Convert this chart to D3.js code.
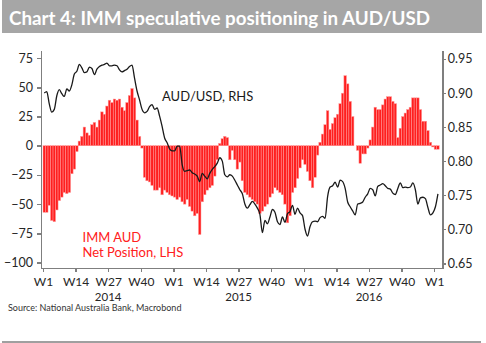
<!DOCTYPE html>
<html lang="en">
<head>
<meta charset="utf-8">
<title>Chart 4: IMM speculative positioning in AUD/USD</title>
<script src="https://cdn.jsdelivr.net/npm/d3@7"></script>
<style>
    body { margin: 0; background: #fff; }
    .axis path, .axis line { fill: none; stroke: #7f7f7f; stroke-width: 1.5px; shape-rendering: crispEdges; }
    .axis text { font-family: Lato, sans-serif; font-size: 12.5px; fill: #262626; }
    .x-axis text { font-size: 12px; }
</style>
</head>
<body>
<script>
// Weekly IMM net positioning in AUD (thousand contracts), 2014 W1 .. 2017 W2
var netPosition = [
    -57, -57, -51, -64, -65, -55, -47, -44, -40, -41, -40, -24, -20, -5, 4, 8, 16, 11, 9, 18,
    20, 16, 22, 29, 27, 34, 39, 37, 40, 39, 40, 33, 30, 37, 43, 49, 41, 22, 8, -2,
    -27, -30, -31, -34, -38, -38, -36, -42, -38, -40, -42, -43, -44, -46, -44, -48, -50, -46, -52, -56,
    -60, -58, -76, -48, -42, -38, -36, -34, -26, -12, 2, 6, 8, 7, -12, -4, -12, -20, -14, -30,
    -40, -42, -44, -46, -48, -50, -58, -56, -52, -50, -44, -41, -36, -38, -40, -42, -50, -66, -60, -40,
    -36, -28, -19, -12, -16, -22, -30, -36, -27, -8, 3, 10, 18, 30, 14, 19, 24, 27, 36, 45,
    60, 53, 38, 25, 0, -4, -15, -7, -7, -2, 5, 16, 33, 31, 31, 35, 40, 42, 42, 38,
    36, 7, 15, 25, 28, 31, 33, 41, 41, 41, 31, 21, 21, 13, 3, -1, -3, -3
];

// Weekly AUD/USD spot, same weeks
var audUsd = [
    0.900, 0.902, 0.884, 0.872, 0.876, 0.896, 0.905, 0.899, 0.895, 0.906,
    0.903, 0.912, 0.928, 0.932, 0.942, 0.937, 0.930, 0.931, 0.938, 0.936,
    0.927, 0.935, 0.939, 0.941, 0.942, 0.944, 0.940, 0.940, 0.941, 0.940,
    0.934, 0.931, 0.933, 0.935, 0.939, 0.941, 0.922, 0.903, 0.890, 0.876,
    0.871, 0.873, 0.880, 0.883, 0.876, 0.878, 0.866, 0.851, 0.834, 0.827,
    0.818, 0.815, 0.815, 0.822, 0.822, 0.795, 0.785, 0.786, 0.787, 0.783,
    0.781, 0.778, 0.770, 0.782, 0.778, 0.774, 0.782, 0.788, 0.792, 0.797,
    0.805, 0.800, 0.780, 0.777, 0.780, 0.778, 0.772, 0.765, 0.758, 0.752,
    0.737, 0.731, 0.736, 0.741, 0.737, 0.731, 0.722, 0.695, 0.713, 0.708,
    0.718, 0.729, 0.725, 0.711, 0.707, 0.718, 0.710, 0.723, 0.726, 0.735,
    0.722, 0.731, 0.724, 0.720, 0.700, 0.690, 0.704, 0.711, 0.712, 0.711,
    0.717, 0.719, 0.716, 0.748, 0.762, 0.764, 0.769, 0.762, 0.772, 0.770,
    0.760, 0.740, 0.733, 0.727, 0.721, 0.737, 0.738, 0.740, 0.747, 0.752,
    0.760, 0.758, 0.749, 0.763, 0.765, 0.767, 0.764, 0.760, 0.759, 0.753,
    0.751, 0.760, 0.768, 0.761, 0.762, 0.761, 0.762, 0.768, 0.758, 0.737,
    0.746, 0.747, 0.745, 0.732, 0.721, 0.724, 0.733, 0.752
];

// Axis ticks
var leftTicks = [-100, -75, -50, -25, 0, 25, 50, 75];
var rightTicks = [0.65, 0.70, 0.75, 0.80, 0.85, 0.90, 0.95];
var weekTickIndex = [0, 13, 26, 39, 52, 65, 78, 91, 104, 117, 130, 143, 156];
var weekTickLabels = ["W1", "W14", "W27", "W40", "W1", "W14", "W27", "W40", "W1", "W14", "W27", "W40", "W1"];
var years = ["2014", "2015", "2016"];
var yearCentreIndex = [26, 78, 130];

var width = 486, height = 343;
var plot = { left: 41, right: 442.7, top: 50, bottom: 268 };

var svg = d3.select("body").append("svg")
    .attr("width", width)
    .attr("height", height);

// Title bar
svg.append("rect")
    .attr("x", 2).attr("y", 0)
    .attr("width", 480).attr("height", 33)
    .attr("fill", "#a6a6a6");

svg.append("text")
    .attr("x", 9).attr("y", 25)
    .attr("font-family", "Lato, sans-serif")
    .attr("font-weight", "bold")
    .attr("font-size", "19px")
    .attr("fill", "#ffffff")
    .attr("textLength", 421)
    .attr("lengthAdjust", "spacingAndGlyphs")
    .text("Chart 4: IMM speculative positioning in AUD/USD");

// Scales
var x = d3.scaleLinear()
    .domain([-0.8, 159.4])
    .range([plot.left, plot.right]);

var yLeft = d3.scaleLinear()
    .domain([-104.7, 82])
    .range([plot.bottom, plot.top]);

var yRight = d3.scaleLinear()
    .domain([0.6431, 0.9632])
    .range([plot.bottom, plot.top]);

// Bars
svg.append("g")
    .selectAll("rect")
    .data(netPosition)
    .enter()
    .append("rect")
    .attr("x", function(d, i) { return x(i); })
    .attr("width", function(d, i) { return x(i + 1) - x(i); })
    .attr("y", function(d) { return yLeft(Math.max(0, d)); })
    .attr("height", function(d) { return Math.abs(yLeft(d) - yLeft(0)); })
    .attr("fill", "#ff1f1f")
    .attr("stroke", "#ff9a9a")
    .attr("stroke-width", 0.5);

// AUD/USD line
var line = d3.line()
    .x(function(d, i) { return x(i + 0.5); })
    .y(function(d) { return yRight(d); })
    .curve(d3.curveMonotoneX);

svg.append("path")
    .datum(audUsd)
    .attr("d", line)
    .attr("fill", "none")
    .attr("stroke", "#1a1a1a")
    .attr("stroke-width", 1.3);

// Axes
var leftAxis = d3.axisLeft(yLeft)
    .tickValues(leftTicks)
    .tickSize(4)
    .tickPadding(4)
    .tickSizeOuter(0);

svg.append("g")
    .attr("class", "axis")
    .attr("transform", "translate(" + plot.left + ",0)")
    .call(leftAxis);

var rightAxis = d3.axisRight(yRight)
    .tickValues(rightTicks)
    .tickFormat(d3.format(".2f"))
    .tickSize(3)
    .tickPadding(2)
    .tickSizeOuter(0);

svg.append("g")
    .attr("class", "axis")
    .attr("transform", "translate(" + plot.right + ",0)")
    .call(rightAxis);

var bottomAxis = d3.axisBottom(x)
    .tickValues(weekTickIndex)
    .tickFormat(function(d, i) { return weekTickLabels[i]; })
    .tickSize(4)
    .tickPadding(5)
    .tickSizeOuter(0);

svg.append("g")
    .attr("class", "axis x-axis")
    .attr("transform", "translate(0," + plot.bottom + ")")
    .call(bottomAxis);

// Year labels
svg.selectAll(".year")
    .data(years)
    .enter()
    .append("text")
    .attr("class", "year")
    .attr("x", function(d, i) { return x(yearCentreIndex[i]); })
    .attr("y", 300.5)
    .attr("text-anchor", "middle")
    .attr("font-family", "Lato, sans-serif")
    .attr("font-size", "11.5px")
    .attr("fill", "#262626")
    .text(function(d) { return d; });

// Series labels
svg.append("text")
    .attr("x", 162).attr("y", 101)
    .attr("font-family", "Lato, sans-serif")
    .attr("font-size", "13px")
    .attr("fill", "#1a1a1a")
    .text("AUD/USD, RHS");

svg.append("text")
    .attr("x", 82.5).attr("y", 241.5)
    .attr("font-family", "Lato, sans-serif")
    .attr("font-size", "13px")
    .attr("fill", "#ff2020")
    .text("IMM AUD");

svg.append("text")
    .attr("x", 82.5).attr("y", 256.5)
    .attr("font-family", "Lato, sans-serif")
    .attr("font-size", "13px")
    .attr("fill", "#ff2020")
    .text("Net Position, LHS");

// Source + bottom rule
svg.append("text")
    .attr("x", 8).attr("y", 311)
    .attr("font-family", "Lato, sans-serif")
    .attr("font-size", "9px")
    .attr("fill", "#333333")
    .text("Source: National Australia Bank, Macrobond");

svg.append("line")
    .attr("x1", 2).attr("x2", 481)
    .attr("y1", 342).attr("y2", 342)
    .attr("stroke", "#404040")
    .attr("stroke-width", 1);
</script>
</body>
</html>
